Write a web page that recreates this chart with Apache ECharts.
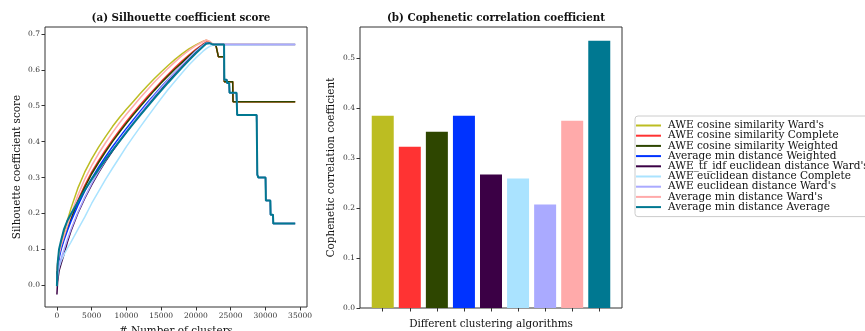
<!DOCTYPE html>
<html style="height: 100%">
<head>
    <meta charset="utf-8">
    <script src="https://cdn.jsdelivr.net/npm/echarts@6/dist/echarts.min.js"></script>
</head>
<body style="height: 100%; margin: 0; background: #fff">
    <div id="main" style="width: 865px; height: 331px"></div>
    <script type="text/javascript">
        // legend names, in drawing order
        var names = [
            "AWE cosine similarity Ward's",
            "AWE cosine similarity Complete",
            "AWE cosine similarity Weighted",
            "Average min distance Weighted",
            "AWE_tf_idf euclidean distance Ward's",
            "AWE euclidean distance Complete",
            "AWE euclidean distance Ward's",
            "Average min distance Ward's",
            "Average min distance Average"
        ];
        var colors = ['#bcbd22', '#ff3333', '#2e4600', '#0033ff', '#3b0045',
                      '#aae3ff', '#aaaaff', '#ffaaaa', '#007891'];

        // rising part of the silhouette curves (x = number of clusters)
        var rampX = [0, 100, 300, 600, 1000, 1500, 2000, 3000, 4000, 5000, 6000, 7000, 8000, 9000, 10000,
                     11000, 12000, 13000, 14000, 15000, 16000, 17000, 18000, 19000, 20000, 21000, 21500, 22000, 22500];
        var cosWard     = [0.03, 0.06, 0.09, 0.118, 0.145, 0.18, 0.213, 0.27, 0.315, 0.352, 0.385, 0.414, 0.442, 0.467, 0.49,
                           0.512, 0.534, 0.555, 0.575, 0.594, 0.612, 0.629, 0.644, 0.658, 0.669, 0.679, 0.682, 0.678, 0.67];
        var cosComplete = [0.02, 0.055, 0.085, 0.108, 0.132, 0.16, 0.186, 0.236, 0.278, 0.315, 0.347, 0.377, 0.405, 0.431, 0.456,
                           0.48, 0.503, 0.525, 0.546, 0.567, 0.587, 0.606, 0.624, 0.641, 0.657, 0.671, 0.677, 0.676, 0.67];
        var cosWeighted = [0.01, 0.05, 0.08, 0.105, 0.13, 0.158, 0.183, 0.232, 0.273, 0.31, 0.342, 0.372, 0.4, 0.426, 0.451,
                           0.475, 0.498, 0.52, 0.542, 0.563, 0.583, 0.602, 0.62, 0.638, 0.654, 0.669, 0.675, 0.675, 0.67];
        var minWeighted = [0.0, 0.045, 0.075, 0.1, 0.125, 0.152, 0.177, 0.222, 0.262, 0.297, 0.329, 0.358, 0.386, 0.412, 0.437,
                           0.461, 0.485, 0.508, 0.53, 0.552, 0.573, 0.593, 0.612, 0.631, 0.649, 0.666, 0.673, 0.674, 0.67];
        var tfidfWard   = [-0.025, 0.01, 0.04, 0.06, 0.085, 0.12, 0.15, 0.2, 0.242, 0.28, 0.314, 0.345, 0.374, 0.401, 0.427,
                           0.452, 0.477, 0.501, 0.524, 0.547, 0.569, 0.59, 0.611, 0.631, 0.65, 0.667, 0.674, 0.675, 0.67];
        var eucComplete = [0.0, 0.03, 0.05, 0.068, 0.085, 0.103, 0.12, 0.155, 0.19, 0.228, 0.262, 0.295, 0.326, 0.356, 0.386,
                           0.414, 0.441, 0.468, 0.494, 0.52, 0.545, 0.568, 0.591, 0.613, 0.633, 0.651, 0.659, 0.665, 0.669];
        var eucWard     = [0.0, 0.03, 0.055, 0.075, 0.098, 0.128, 0.155, 0.203, 0.245, 0.283, 0.317, 0.348, 0.377, 0.404, 0.43,
                           0.455, 0.48, 0.504, 0.527, 0.55, 0.572, 0.593, 0.613, 0.633, 0.652, 0.668, 0.675, 0.673, 0.67];
        var minWard     = [0.04, 0.06, 0.085, 0.11, 0.135, 0.165, 0.195, 0.25, 0.295, 0.333, 0.367, 0.397, 0.425, 0.452, 0.476,
                           0.499, 0.522, 0.544, 0.565, 0.585, 0.604, 0.622, 0.639, 0.654, 0.667, 0.678, 0.683, 0.679, 0.67];
        var minAverage  = [-0.002, 0.06, 0.1, 0.125, 0.155, 0.18, 0.198, 0.232, 0.265, 0.295, 0.323, 0.35, 0.376, 0.401, 0.426,
                           0.45, 0.474, 0.497, 0.52, 0.542, 0.564, 0.585, 0.606, 0.626, 0.646, 0.664, 0.673, 0.674, 0.67];

        // step-down tails after the peak, shared by the curves built on the same distances
        var tailCosine = [[22900, 0.667], [23250, 0.636], [24060, 0.636], [24100, 0.567], [25300, 0.567],
                          [25350, 0.511], [34300, 0.511]];
        var tailEuclid = [[34300, 0.67]];
        var tailAvgMin = [[24060, 0.67], [24100, 0.572], [24450, 0.572], [24500, 0.563], [24800, 0.563],
                          [24850, 0.536], [25850, 0.536], [25950, 0.474], [28750, 0.474], [28850, 0.308],
                          [29000, 0.30], [30030, 0.30], [30080, 0.236], [30720, 0.236], [30760, 0.197],
                          [31100, 0.197], [31150, 0.172], [34300, 0.172]];

        var ramps = [cosWard, cosComplete, cosWeighted, minWeighted, tfidfWard, eucComplete, eucWard, minWard, minAverage];
        var tails = [tailCosine, tailCosine, tailCosine, tailAvgMin, tailEuclid, tailEuclid, tailEuclid, tailAvgMin, tailAvgMin];

        // cophenetic correlation per algorithm (same order as names)
        var cophenetic = [0.385, 0.323, 0.353, 0.385, 0.267, 0.259, 0.207, 0.375, 0.535];

        var xTicks = [0, 5000, 10000, 15000, 20000, 25000, 30000, 35000];
        var yTicksA = [0, 0.1, 0.2, 0.3, 0.4, 0.5, 0.6, 0.7];
        var yTicksB = [0, 0.1, 0.2, 0.3, 0.4, 0.5];
        var barTicks = [0, 1, 2, 3, 4, 5, 6, 7, 8];

        var font = 'DejaVu Serif';
        var axisColor = '#333';
        var nameStyle = { fontFamily: font, fontSize: 10.4, color: '#111' };
        var tickLabel = { fontFamily: font, fontSize: 7.5, color: '#333', margin: 5 };

        var lineSeries = names.map(function (name, i) {
            var pts = rampX.map(function (x, j) { return [x, ramps[i][j]]; }).concat(tails[i]);
            return {
                name: name,
                type: 'line',
                xAxisIndex: 0,
                yAxisIndex: 0,
                data: pts,
                showSymbol: false,
                symbol: 'none',
                color: colors[i],
                lineStyle: { width: i === 8 ? 2 : 1.5, color: colors[i] },
                animation: false
            };
        });

        var barSeries = {
            name: 'cophenetic',
            type: 'bar',
            xAxisIndex: 1,
            yAxisIndex: 1,
            barWidth: 22,
            data: cophenetic.map(function (v, i) {
                return { value: [i, v], itemStyle: { color: colors[i] } };
            }),
            animation: false
        };

        function tickFmt(v) { return v.toFixed(1); }
        function intFmt(v) { return String(Math.round(v)); }

        var myChart = echarts.init(document.getElementById('main'));
        var option = {
            backgroundColor: '#fff',
            textStyle: { fontFamily: font },
            title: [
                {
                    text: '(a) Silhouette coefficient score',
                    left: 176, top: 8, textAlign: 'center',
                    textStyle: { fontFamily: font, fontSize: 10.3, fontWeight: 'bold', color: '#111' }
                },
                {
                    text: '(b) Cophenetic correlation coefficient',
                    left: 491, top: 8, textAlign: 'center',
                    textStyle: { fontFamily: font, fontSize: 10.3, fontWeight: 'bold', color: '#111' }
                }
            ],
            legend: {
                data: names,
                orient: 'vertical',
                left: 635, top: 116,
                padding: [4, 4, 4, 1],
                itemGap: -0.8,
                itemWidth: 25,
                itemHeight: 2,
                icon: 'rect',
                backgroundColor: '#fff',
                borderColor: '#ccc',
                borderWidth: 1,
                borderRadius: 3,
                textStyle: { fontFamily: font, fontSize: 10.5, lineHeight: 10, color: '#111', padding: [0, 0, 0, 2] }
            },
            grid: [
                { left: 45, top: 27, width: 262, height: 280, outerBoundsMode: 'none', containLabel: false,
                  show: true, borderColor: axisColor, borderWidth: 1, backgroundColor: 'transparent' },
                { left: 360, top: 27, width: 262, height: 281, outerBoundsMode: 'none', containLabel: false,
                  show: true, borderColor: axisColor, borderWidth: 1, backgroundColor: 'transparent' }
            ],
            xAxis: [
                {
                    type: 'value', gridIndex: 0, min: -1715, max: 36000,
                    name: '# Number of clusters', nameLocation: 'middle', nameGap: 19,
                    nameTextStyle: nameStyle,
                    axisLine: { show: false, onZero: false },
                    splitLine: { show: false },
                    axisTick: { show: true, inside: false, length: 3.5, customValues: xTicks, lineStyle: { color: axisColor } },
                    axisLabel: Object.assign({ customValues: xTicks, formatter: intFmt }, tickLabel)
                },
                {
                    type: 'value', gridIndex: 1, min: -0.84, max: 8.84,
                    name: 'Different clustering algorithms', nameLocation: 'middle', nameGap: 11,
                    nameTextStyle: nameStyle,
                    axisLine: { show: false, onZero: false },
                    splitLine: { show: false },
                    axisTick: { show: true, inside: false, length: 3.5, customValues: barTicks, lineStyle: { color: axisColor } },
                    axisLabel: { show: false }
                }
            ],
            yAxis: [
                {
                    type: 'value', gridIndex: 0, min: -0.06, max: 0.719,
                    name: 'Silhouette coefficient score', nameLocation: 'middle', nameGap: 23,
                    nameTextStyle: nameStyle,
                    axisLine: { show: false, onZero: false },
                    splitLine: { show: false },
                    axisTick: { show: true, inside: false, length: 3.5, customValues: yTicksA, lineStyle: { color: axisColor } },
                    axisLabel: Object.assign({ customValues: yTicksA, formatter: tickFmt }, tickLabel)
                },
                {
                    type: 'value', gridIndex: 1, min: 0, max: 0.5625,
                    name: 'Cophenetic correlation coefficient', nameLocation: 'middle', nameGap: 23.5,
                    nameTextStyle: nameStyle,
                    axisLine: { show: false, onZero: false },
                    splitLine: { show: false },
                    axisTick: { show: true, inside: false, length: 3.5, customValues: yTicksB, lineStyle: { color: axisColor } },
                    axisLabel: Object.assign({ customValues: yTicksB, formatter: tickFmt }, tickLabel)
                }
            ],
            series: lineSeries.concat([barSeries])
        };
        myChart.setOption(option);
    </script>
</body>
</html>
